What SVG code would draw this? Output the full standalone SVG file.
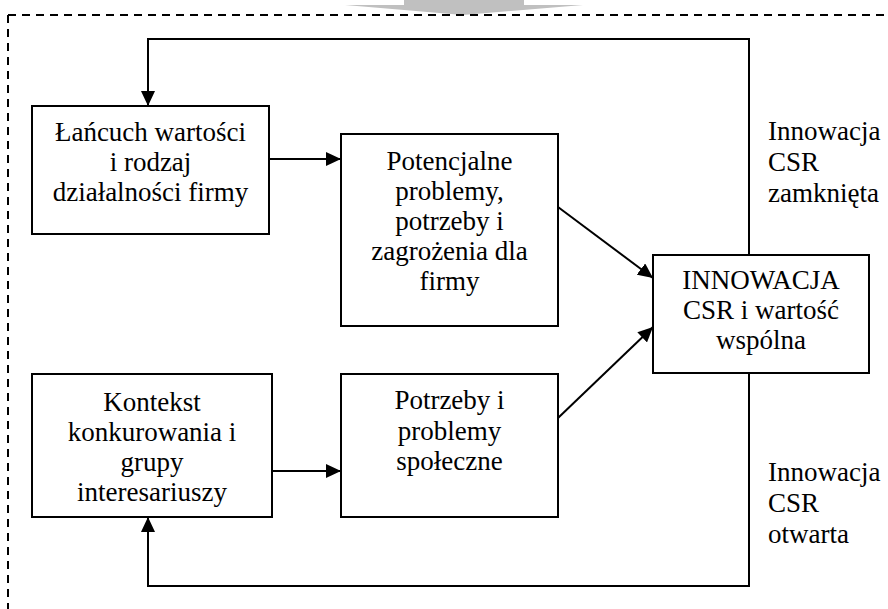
<svg xmlns="http://www.w3.org/2000/svg" width="888" height="609" viewBox="0 0 888 609">
<style>
.box{fill:#fff;stroke:#000;stroke-width:2}
.ln{fill:none;stroke:#000;stroke-width:2}
.t{font-family:"Liberation Serif","Times New Roman",serif;font-size:27px;fill:#000}
.c{text-anchor:middle}
.frame{fill:none;stroke:#000;stroke-width:2;stroke-dasharray:8 6}
</style>
<defs>
<marker id="ah" markerUnits="userSpaceOnUse" markerWidth="15" markerHeight="14" refX="15" refY="7" orient="auto">
<path d="M0,0 L15,7 L0,14 z" fill="#000"/>
</marker>
</defs>
<rect width="888" height="609" fill="#fff"/>
<polygon points="404,0 524,0 524,5 583,5 463,15 345,5 404,5" fill="#c0c0c0"/>
<g id="frame">
<path class="frame" d="M8,15 H888"/>
<path class="frame" d="M8,15 V609"/>
</g>
<g id="connectors">
<path class="ln" d="M749,255 V39 H148 V106" marker-end="url(#ah)"/>
<path class="ln" d="M749,373 V586 H148 V517" marker-end="url(#ah)"/>
<path class="ln" d="M270,159 H341" marker-end="url(#ah)"/>
<path class="ln" d="M272,471 H341" marker-end="url(#ah)"/>
<path class="ln" d="M558,207 L653,278" marker-end="url(#ah)"/>
<path class="ln" d="M558,418 L653,327" marker-end="url(#ah)"/>
</g>
<g id="lancuch">
<rect class="box" x="32" y="106" width="237" height="128"/>
<text class="t c" x="150.5" y="141">Łańcuch wartości</text>
<text class="t c" x="150.5" y="171">i rodzaj</text>
<text class="t c" x="150.5" y="201">działalności firmy</text>
</g>
<g id="potencjalne">
<rect class="box" x="341" y="134" width="217" height="192"/>
<text class="t c" x="449.5" y="170">Potencjalne</text>
<text class="t c" x="449.5" y="200">problemy,</text>
<text class="t c" x="449.5" y="230">potrzeby i</text>
<text class="t c" x="449.5" y="260">zagrożenia dla</text>
<text class="t c" x="449.5" y="290">firmy</text>
</g>
<g id="innowacja">
<rect class="box" x="653" y="255" width="216" height="118"/>
<text class="t c" x="761" y="289">INNOWACJA</text>
<text class="t c" x="761" y="319">CSR i wartość</text>
<text class="t c" x="761" y="349">wspólna</text>
</g>
<g id="kontekst">
<rect class="box" x="32" y="374" width="240" height="143"/>
<text class="t c" x="152" y="411">Kontekst</text>
<text class="t c" x="152" y="441">konkurowania i</text>
<text class="t c" x="152" y="471">grupy</text>
<text class="t c" x="152" y="501">interesariuszy</text>
</g>
<g id="spoleczne">
<rect class="box" x="341" y="374" width="217" height="143"/>
<text class="t c" x="449.5" y="409">Potrzeby i</text>
<text class="t c" x="449.5" y="440">problemy</text>
<text class="t c" x="449.5" y="470">społeczne</text>
</g>
<g id="label-zamknieta">
<text class="t" x="768" y="140">Innowacja</text>
<text class="t" x="768" y="171">CSR</text>
<text class="t" x="768" y="202">zamknięta</text>
</g>
<g id="label-otwarta">
<text class="t" x="768" y="481">Innowacja</text>
<text class="t" x="768" y="512">CSR</text>
<text class="t" x="768" y="543">otwarta</text>
</g>
</svg>
